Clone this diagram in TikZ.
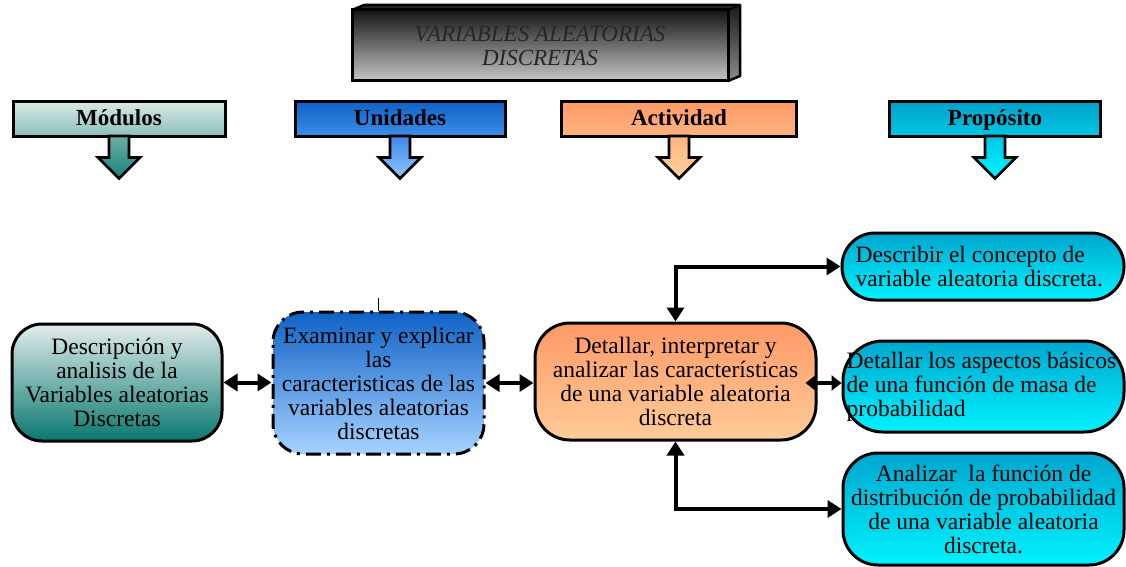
\documentclass[tikz,border=0pt]{standalone}
\usepackage{fontspec}
\setmainfont{Liberation Serif}
\usetikzlibrary{arrows.meta,calc}

% header palette
\definecolor{modTop}{HTML}{D8E8E6}
\definecolor{modBot}{HTML}{8CC0BA}
\definecolor{modArT}{HTML}{6EAEA6}
\definecolor{modArB}{HTML}{14827A}
\definecolor{uniTop}{HTML}{0F62C8}
\definecolor{uniBot}{HTML}{3C8EE6}
\definecolor{uniArT}{HTML}{3A8AE4}
\definecolor{uniArB}{HTML}{92C6FF}
\definecolor{actTop}{HTML}{FF9966}
\definecolor{actBot}{HTML}{FFB480}
\definecolor{actArT}{HTML}{FFB480}
\definecolor{actArB}{HTML}{FFD2A0}
\definecolor{proTop}{HTML}{00A2CA}
\definecolor{proBot}{HTML}{00C6E4}
\definecolor{proArT}{HTML}{00C6E4}
\definecolor{proArB}{HTML}{00F4FF}
% box palette
\definecolor{tealTop}{HTML}{E2ECEC}
\definecolor{tealMid}{HTML}{8CC4BE}
\definecolor{tealBot}{HTML}{08786F}
\definecolor{blueTop}{HTML}{1062C6}
\definecolor{blueBot}{HTML}{A6D2FF}
\definecolor{salTop}{HTML}{FF9966}
\definecolor{salBot}{HTML}{FFCC99}
\definecolor{cyanTop}{HTML}{00A6CE}
\definecolor{cyanBot}{HTML}{00F2FF}
\definecolor{titleInk}{HTML}{262626}

% down-pointing block arrow under a header: node, top colour, bottom colour
\newcommand\downarrowfrom[3]{%
  \shade[draw, line width=2.6pt, line join=miter, top color=#2, bottom color=#3]
    ($(#1.south)+(-10,-1.5)$) -- ++(0,21.5) -- ++(-11,0) -- ++(21,21)
    -- ++(21,-21) -- ++(-11,0) -- ++(0,-21.5) -- cycle;}

\begin{document}
\begin{tikzpicture}[x=1pt,y=-1pt,
  titlebox/.style={draw, line width=3pt, minimum width=376pt, minimum height=71pt,
    inner sep=0pt, align=center, top color=black!92, middle color=black!62,
    bottom color=black!22, text=titleInk, font=\itshape\fontsize{23}{24}\selectfont},
  hdr/.style={draw, line width=3pt, minimum height=34pt, inner sep=0pt,
    text height=15pt, text depth=2.5pt,
    font=\bfseries\fontsize{23}{24}\selectfont},
  box/.style={draw, line width=3pt, rounded corners=#1, inner sep=0pt,
    font=\fontsize{23.5}{24}\selectfont},
  boxtext/.style={inner sep=0pt, align=left, font=\fontsize{23.5}{24}\selectfont},
  conn/.style={line width=4pt, line join=miter,
    {Triangle[length=14pt,width=17pt]}-{Triangle[length=14pt,width=17pt]}},
  shortconn/.style={line width=4pt,
    {Triangle[length=10pt,width=15pt]}-{Triangle[length=10pt,width=15pt]}},
]
\useasboundingbox (0,0) rectangle (1126,567);

% title block with its extruded top and right faces
\fill[black!85] (352,10) -- ++(12,-5) -- (740,5) -- (728,10) -- cycle;
\shade[top color=black!90, bottom color=black!45] (728,10) -- (740,5) -- (740,76) -- (728,81) -- cycle;
\draw[line width=2.5pt, line join=round] (352,10) -- ++(12,-5) -- (740,5) -- (740,76) -- (728,81);
\draw[line width=2pt] (728,10) -- (740,5);
\node[titlebox] (title) at (540,45.5) {VARIABLES ALEATORIAS\\DISCRETAS};

% column headers
\node[hdr, minimum width=212pt, top color=modTop, bottom color=modBot] (hmod) at (119,119) {Módulos};
\node[hdr, minimum width=210pt, top color=uniTop, bottom color=uniBot] (huni) at (400,119) {Unidades};
\node[hdr, minimum width=235pt, top color=actTop, bottom color=actBot] (hact) at (679,119) {Actividad};
\node[hdr, minimum width=211pt, top color=proTop, bottom color=proBot] (hpro) at (995,119) {Propósito};
\downarrowfrom{hmod}{modArT}{modArB}
\downarrowfrom{huni}{uniArT}{uniArB}
\downarrowfrom{hact}{actArT}{actArB}
\downarrowfrom{hpro}{proArT}{proArB}

% main boxes
\node[box=30pt, minimum width=210pt, minimum height=117pt, align=center,
  top color=tealTop, middle color=tealMid, bottom color=tealBot] (n1) at (117,382.5)
  {Descripción y\\analisis de la\\Variables aleatorias\\Discretas};
\node[box=30pt, minimum width=211pt, minimum height=142pt, align=center,
  dash pattern=on 15pt off 6pt on 3pt off 6pt,
  top color=blueTop, bottom color=blueBot] (n2) at (378.5,383)
  {Examinar y explicar\\las\\caracteristicas de las\\variables aleatorias\\discretas};
\node[box=35pt, minimum width=281pt, minimum height=117pt, align=center,
  top color=salTop, bottom color=salBot] (n3) at (675.5,381.5)
  {Detallar, interpretar y\\analizar las características\\de una variable aleatoria\\discreta};
\node[box=33pt, minimum width=282pt, minimum height=67pt,
  top color=cyanTop, bottom color=cyanBot] (n4) at (983,266.5) {};
\node[boxtext, anchor=west] (n4t) at ($(n4.west)+(15,0)$)
  {Describir el concepto de\\variable aleatoria discreta.};
\node[box=40pt, minimum width=281pt, minimum height=91pt,
  top color=cyanTop, bottom color=cyanBot] (n5) at (983.5,386.5) {};
\node[boxtext, anchor=west] (n5t) at ($(n5.west)+(5,0)$)
  {Detallar los aspectos básicos\\de una función de masa de\\probabilidad};
\node[box=35pt, minimum width=281pt, minimum height=112pt, align=center,
  top color=cyanTop, bottom color=cyanBot] (n6) at (983.5,509)
  {Analizar\ \ la función de\\distribución de probabilidad\\de una variable aleatoria\\discreta.};

% small tick above the second box
\coordinate (tick) at ($(n2.north)+(0,-13)$);
\draw[line width=0.8pt] (tick) -- (n2.north);

% connectors
\draw[conn] (n1.east) -- (n1.east -| n2.west);
\draw[conn] (n2.east) -- (n2.east -| n3.west);
\draw[shortconn] ($(n3.east)+(-12,1.5)$) -- ($(n3.east -| n5.west)+(0,1.5)$);
\draw[conn] (n4.west) -| (n3.north);
\draw[conn] (n6.west) -| (n3.south);
\end{tikzpicture}
\end{document}
